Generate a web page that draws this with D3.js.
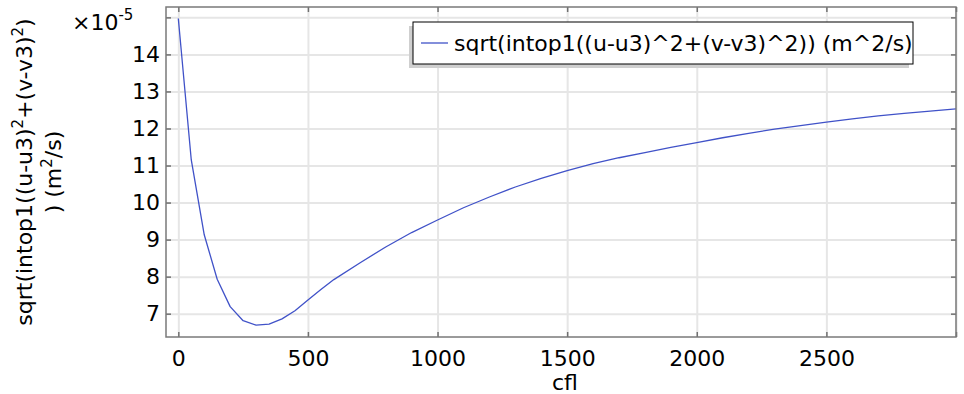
<!DOCTYPE html>
<html>
<head>
<meta charset="utf-8">
<script src="https://cdn.jsdelivr.net/npm/d3@7"></script>
<style>
  body { margin: 0; background: #fff; }
  svg { display: block; }
  text { font-family: "DejaVu Sans", sans-serif; fill: #000; }
</style>
</head>
<body>
<svg id="chart" width="964" height="394"></svg>
<script>
// Courant number sweep
const cfl = [0, 50, 100, 150, 200, 250, 300, 350, 400, 450, 500, 550, 600,
             700, 800, 900, 1000, 1100, 1200, 1300, 1400, 1500, 1600, 1700,
             1800, 1900, 2000, 2100, 2200, 2300, 2400, 2500, 2600, 2700,
             2800, 2900, 3000];
// sqrt(intop1((u-u3)^2+(v-v3)^2)) in units of 1e-5 m^2/s
const errNorm = [14.97, 11.15, 9.13, 7.93, 7.19, 6.81, 6.69, 6.72, 6.86, 7.08,
                 7.37, 7.65, 7.92, 8.37, 8.80, 9.19, 9.53, 9.86, 10.15, 10.42,
                 10.65, 10.86, 11.05, 11.21, 11.35, 11.49, 11.62, 11.75, 11.87,
                 11.98, 12.08, 12.17, 12.26, 12.34, 12.41, 12.47, 12.53];

const xTicks = [0, 500, 1000, 1500, 2000, 2500, 3000];
const xTickLabels = ["0", "500", "1000", "1500", "2000", "2500", ""];
const yTicks = [7, 8, 9, 10, 11, 12, 13, 14, 15];
const yTickLabels = ["7", "8", "9", "10", "11", "12", "13", "14", ""];

const xTitle = "cfl";
const legendLabel = "sqrt(intop1((u-u3)^2+(v-v3)^2)) (m^2/s)";

const FONT = 22;
const SUP = 15;
const LINE_COLOR = "#4052c8";
const svg = d3.select("#chart");

const plot = { left: 166, right: 956, top: 7, bottom: 337 };
const x = d3.scaleLinear().domain([-47.5, 3000]).range([plot.left, plot.right]);
const y = d3.scaleLinear().domain([6.37, 15.28]).range([plot.bottom, plot.top]);

// grid
const grid = svg.append("g");
grid.append("g")
  .attr("transform", `translate(0,${plot.bottom})`)
  .call(d3.axisBottom(x).tickValues(xTicks).tickSize(-(plot.bottom - plot.top)).tickFormat(""))
  .call(g => g.select(".domain").remove())
  .call(g => g.selectAll("line").attr("stroke", "#e6e6e6").attr("stroke-width", 2));
grid.append("g")
  .attr("transform", `translate(${plot.left},0)`)
  .call(d3.axisLeft(y).tickValues(yTicks).tickSize(-(plot.right - plot.left)).tickFormat(""))
  .call(g => g.select(".domain").remove())
  .call(g => g.selectAll("line").attr("stroke", "#e6e6e6").attr("stroke-width", 2));

// curve
const line = d3.line().x((d, i) => x(cfl[i])).y(d => y(d));
svg.append("path")
  .datum(errNorm)
  .attr("d", line)
  .attr("fill", "none")
  .attr("stroke", LINE_COLOR)
  .attr("stroke-width", 1.3)
  .attr("stroke-linejoin", "round");

// axes with inward ticks on all four sides
const TICK = 5;
const styleAxis = g => {
  g.select(".domain").remove();
  g.selectAll(".tick line").attr("stroke", "#707070").attr("stroke-width", 1.5);
  g.selectAll("text").style("font-size", FONT + "px").attr("fill", "#000");
};
const xi = (d, i) => xTickLabels[i];
const yi = (d, i) => yTickLabels[i];

svg.append("g")
  .attr("transform", `translate(0,${plot.bottom})`)
  .call(d3.axisBottom(x).tickValues(xTicks).tickSize(-TICK).tickPadding(13.5).tickFormat(xi))
  .call(styleAxis);
svg.append("g")
  .attr("transform", `translate(0,${plot.top})`)
  .call(d3.axisTop(x).tickValues(xTicks).tickSize(-TICK).tickFormat(""))
  .call(styleAxis);
svg.append("g")
  .attr("transform", `translate(${plot.left},0)`)
  .call(d3.axisLeft(y).tickValues(yTicks).tickSize(-TICK).tickPadding(6).tickFormat(yi))
  .call(styleAxis);
svg.append("g")
  .attr("transform", `translate(${plot.right},0)`)
  .call(d3.axisRight(y).tickValues(yTicks).tickSize(-TICK).tickFormat(""))
  .call(styleAxis);

// frame
svg.append("rect")
  .attr("x", plot.left).attr("y", plot.top)
  .attr("width", plot.right - plot.left).attr("height", plot.bottom - plot.top)
  .attr("fill", "none").attr("stroke", "#7a7a7a").attr("stroke-width", 1.5);

// exponent factor
const expo = svg.append("text").attr("x", 72).attr("y", 30).style("font-size", FONT + "px");
expo.append("tspan").text("×10");
expo.append("tspan").attr("dy", -10).style("font-size", SUP + "px").text("-5");

// axis titles
svg.append("text")
  .attr("x", 565).attr("y", 390)
  .attr("text-anchor", "middle")
  .style("font-size", FONT + "px")
  .text(xTitle);

const yTitle = svg.append("g").attr("transform", "translate(0,172) rotate(-90)");
const t1 = yTitle.append("text").attr("x", 0).attr("y", 32)
  .attr("text-anchor", "middle").style("font-size", FONT + "px");
const parts1 = [["sqrt(intop1((u-u3)", false], ["2", true], ["+(v-v3)", false], ["2", true], [")", false]];
parts1.forEach(([s, sup], i) => {
  t1.append("tspan")
    .attr("dy", sup ? -9 : (i === 0 ? 0 : 9))
    .style("font-size", sup ? SUP + "px" : FONT + "px")
    .text(s);
});
const t2 = yTitle.append("text").attr("x", 0).attr("y", 61)
  .attr("text-anchor", "middle").style("font-size", FONT + "px");
t2.append("tspan").text(") (m");
t2.append("tspan").attr("dy", -9).style("font-size", SUP + "px").text("2");
t2.append("tspan").attr("dy", 9).text("/s)");

// legend
const lg = svg.append("g");
lg.append("rect").attr("x", 409).attr("y", 26).attr("width", 500).attr("height", 42).attr("fill", "#cfcfcf");
lg.append("rect").attr("x", 413).attr("y", 22).attr("width", 500).attr("height", 42)
  .attr("fill", "#fff").attr("stroke", "#000").attr("stroke-width", 1);
lg.append("line").attr("x1", 421).attr("x2", 448).attr("y1", 43).attr("y2", 43)
  .attr("stroke", LINE_COLOR).attr("stroke-width", 1.3);
lg.append("text").attr("x", 454).attr("y", 50.5).style("font-size", FONT + "px").text(legendLabel);
</script>
</body>
</html>
